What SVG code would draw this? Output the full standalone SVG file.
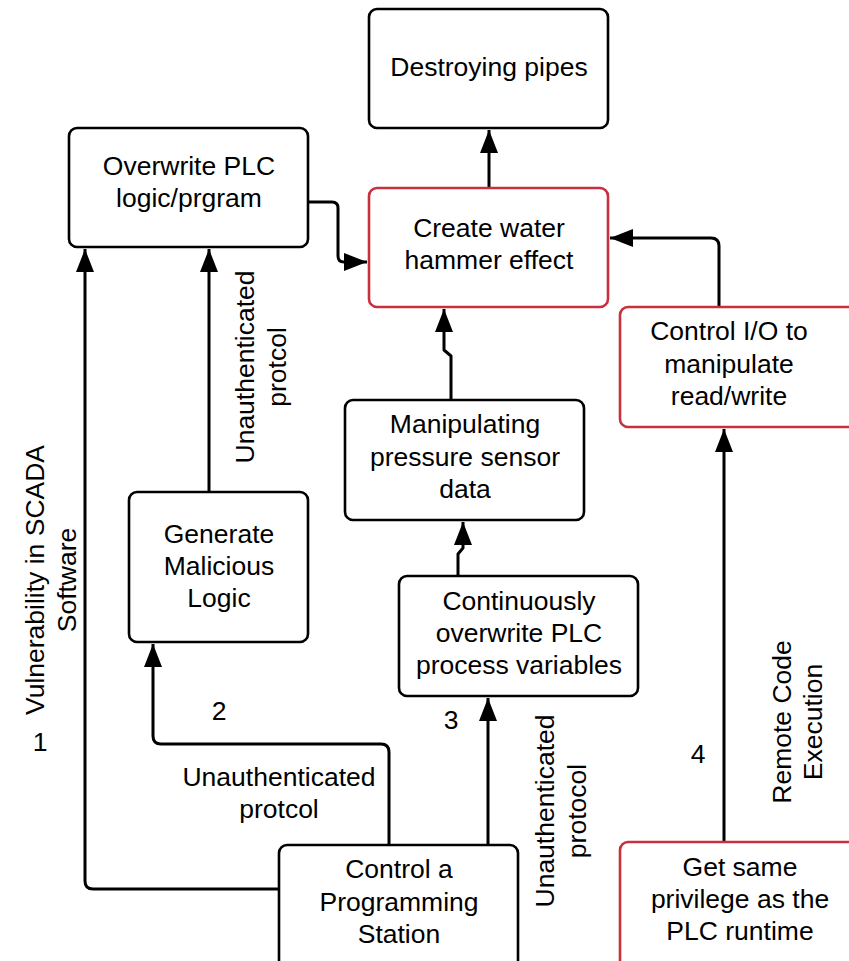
<svg xmlns="http://www.w3.org/2000/svg" width="849" height="961" viewBox="0 0 849 961">
<style>
.box{fill:#fff;stroke:#000;stroke-width:2.6}
.red{fill:#fff;stroke:#c9303e;stroke-width:2.6}
text{font-family:"Liberation Sans",Arial,sans-serif;font-size:26.5px;fill:#000;text-anchor:middle}
.c{fill:none;stroke:#000;stroke-width:3;stroke-linejoin:round}
</style>
<defs>
<marker id="ah" markerUnits="userSpaceOnUse" markerWidth="24" markerHeight="18" refX="23" refY="9" orient="auto">
<path d="M0,0 L23,9 L0,18 Z" fill="#000"/>
</marker>
</defs>
<g id="connectors">
<path class="c" d="M489,188 V130" marker-end="url(#ah)"/>
<path class="c" d="M308,202 H332 Q338,202 338,208 V256 Q338,262 344,262 H367" marker-end="url(#ah)"/>
<path class="c" d="M451,400 V356 L444,350 V309" marker-end="url(#ah)"/>
<path class="c" d="M458,577 V554 L463,548 V522" marker-end="url(#ah)"/>
<path class="c" d="M719,307 V246 Q719,238 711,238 H610" marker-end="url(#ah)"/>
<path class="c" d="M724,842 V429" marker-end="url(#ah)"/>
<path class="c" d="M279,889 H93 Q85,889 85,881 V249" marker-end="url(#ah)"/>
<path class="c" d="M209,492 V249" marker-end="url(#ah)"/>
<path class="c" d="M389,845 V752 Q389,744 381,744 H161 Q153,744 153,736 V644" marker-end="url(#ah)"/>
<path class="c" d="M488,845 V698" marker-end="url(#ah)"/>
</g>
<g id="n-destroy"><rect class="box" x="369" y="9" width="239" height="119" rx="8"/><text x="489" y="76">Destroying pipes</text></g>
<g id="n-overwrite"><rect class="box" x="69" y="128" width="239" height="119" rx="8"/><text x="189" y="175">Overwrite PLC</text><text x="189" y="207">logic/prgram</text></g>
<g id="n-hammer"><rect class="red" x="369" y="188" width="239" height="119" rx="8"/><text x="489" y="237">Create water</text><text x="489" y="269">hammer effect</text></g>
<g id="n-controlio"><rect class="red" x="620" y="307" width="239" height="120" rx="8"/><text x="729" y="340">Control I/O to</text><text x="729" y="373">manipulate</text><text x="729" y="405">read/write</text></g>
<g id="n-manip"><rect class="box" x="345" y="400" width="239" height="120" rx="8"/><text x="465" y="433">Manipulating</text><text x="465" y="466">pressure sensor</text><text x="465" y="498">data</text></g>
<g id="n-generate"><rect class="box" x="129" y="492" width="179" height="150" rx="8"/><text x="219" y="543">Generate</text><text x="219" y="575">Malicious</text><text x="219" y="607">Logic</text></g>
<g id="n-contin"><rect class="box" x="399" y="576" width="239" height="120" rx="8"/><text x="519" y="610">Continuously</text><text x="519" y="642">overwrite PLC</text><text x="519" y="674">process variables</text></g>
<g id="n-station"><rect class="box" x="279" y="845" width="239" height="130" rx="8"/><text x="399" y="878">Control a</text><text x="399" y="911">Programming</text><text x="399" y="943">Station</text></g>
<g id="n-priv"><rect class="red" x="620" y="842" width="239" height="130" rx="8"/><text x="740" y="876">Get same</text><text x="740" y="908">privilege as the</text><text x="740" y="940">PLC runtime</text></g>
<g id="labels">
<text transform="translate(254,367) rotate(-90)">Unauthenticated</text>
<text transform="translate(286,367) rotate(-90)">protcol</text>
<text transform="translate(44,580) rotate(-90)">Vulnerability in SCADA</text>
<text transform="translate(76,580) rotate(-90)">Software</text>
<text transform="translate(554,811) rotate(-90)">Unauthenticated</text>
<text transform="translate(586,811) rotate(-90)">protocol</text>
<text transform="translate(791,722) rotate(-90)">Remote Code</text>
<text transform="translate(822,722) rotate(-90)">Execution</text>
<text x="279" y="786">Unauthenticated</text>
<text x="279" y="818">protcol</text>
<text x="40" y="751">1</text>
<text x="219" y="720">2</text>
<text x="451" y="729">3</text>
<text x="698" y="763">4</text>
</g>
</svg>
